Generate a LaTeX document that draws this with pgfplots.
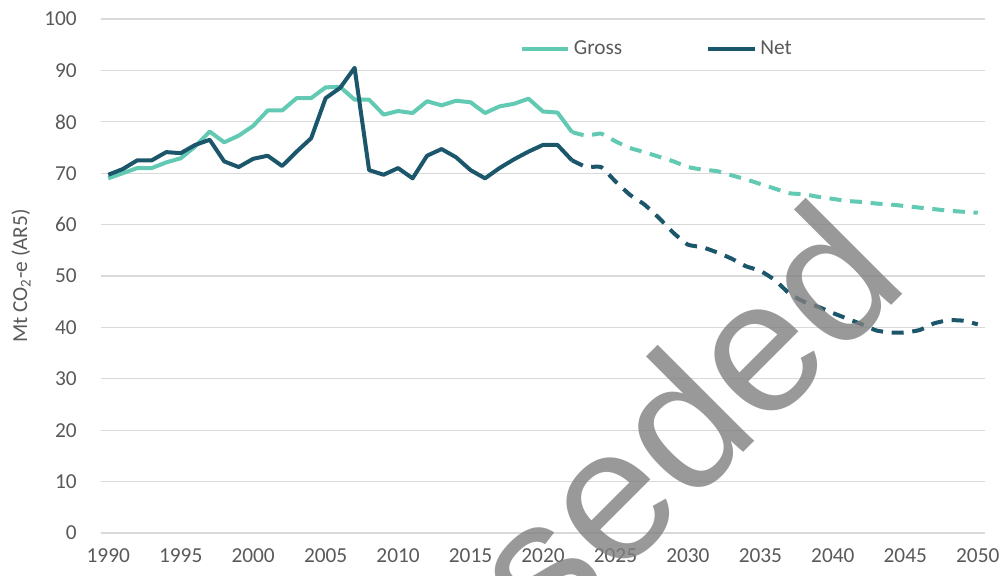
\documentclass[border=0pt]{standalone}
\usepackage{pgfplots}
\pgfplotsset{compat=1.18}
\usepackage{fontspec}
\setmainfont{Carlito}
\newfontfamily\wmfont{Liberation Sans}

\definecolor{grosscol}{HTML}{62C9B3}
\definecolor{netcol}{HTML}{1B566B}
\definecolor{gridcol}{HTML}{D9D9D9}
\definecolor{labcol}{HTML}{595959}

\newcommand{\chartfont}{\fontsize{16}{19}\selectfont}

\begin{document}
\begin{tikzpicture}
\begin{axis}[
  scale only axis, width=663pt, height=385.5pt,
  xmin=1989.5, xmax=2050.5, ymin=0, ymax=100,
  xtick={1990,1995,...,2050}, ytick={0,10,...,100},
  /pgf/number format/1000 sep={},
  /pgf/number format/assume math mode=true,
  axis line style={draw=none},
  tick style={draw=none},
  major tick length=0pt,
  ymajorgrids,
  grid style={gridcol, line width=1pt},
  tick label style={font=\chartfont, text=labcol},
  yticklabel style={inner sep=0pt, anchor=east, xshift=-18pt},
  xticklabel style={inner sep=0pt, anchor=north, yshift=-11.5pt},
  ylabel={Mt CO\textsubscript{2}-e (AR5)},
  ylabel style={at={(axis description cs:-0.0905,0.5)}, anchor=center, font=\chartfont, text=labcol},
  legend columns=2,
  legend image code/.code={\draw[#1] (0pt,0pt) -- (35pt,0pt);},
  legend style={at={(axis cs:2018.4,94.2)}, anchor=west, draw=none, fill=none,
    inner sep=0pt, outer sep=0pt, font=\chartfont, text=labcol,
    nodes={inner sep=0pt}, cells={anchor=west},
    /tikz/every odd column/.append style={column sep=2.5pt},
    /tikz/every even column/.append style={column sep=63pt}},
]
% historical
\addplot[grosscol, line width=3pt, line join=round] coordinates {
  (1990,69.0) (1991,70.0) (1992,71.0) (1993,71.0) (1994,72.1) (1995,72.9)
  (1996,75.2) (1997,78.1) (1998,76.0) (1999,77.3) (2000,79.2) (2001,82.2)
  (2002,82.2) (2003,84.6) (2004,84.6) (2005,86.7) (2006,86.8) (2007,84.3)
  (2008,84.3) (2009,81.4) (2010,82.1) (2011,81.7) (2012,84.0) (2013,83.2)
  (2014,84.1) (2015,83.8) (2016,81.7) (2017,83.0) (2018,83.5) (2019,84.5)
  (2020,82.0) (2021,81.8) (2022,78.0)
};
\addlegendentry{Gross}
\addplot[netcol, line width=3pt, line join=round] coordinates {
  (1990,69.7) (1991,70.8) (1992,72.5) (1993,72.5) (1994,74.1) (1995,73.9)
  (1996,75.5) (1997,76.5) (1998,72.3) (1999,71.2) (2000,72.8) (2001,73.4)
  (2002,71.4) (2003,74.2) (2004,76.8) (2005,84.6) (2006,86.6) (2007,90.5)
  (2008,70.6) (2009,69.7) (2010,71.0) (2011,69.0) (2012,73.4) (2013,74.7)
  (2014,73.1) (2015,70.6) (2016,69.0) (2017,71.0) (2018,72.7) (2019,74.2)
  (2020,75.5) (2021,75.5) (2022,72.5)
};
\addlegendentry{Net}
% projections
\addplot[grosscol, line width=3pt, dash pattern=on 9pt off 6.5pt, smooth, tension=0.3, forget plot] coordinates {
  (2022,78.0) (2023,77.3) (2024,77.7) (2025,76.2) (2026,74.9) (2027,74.1)
  (2028,73.2) (2029,72.3) (2030,71.2) (2031,70.7) (2032,70.4) (2033,69.6)
  (2034,68.8) (2035,67.9) (2036,67.0) (2037,66.1) (2038,65.9) (2039,65.4)
  (2040,65.0) (2041,64.6) (2042,64.4) (2043,64.1) (2044,63.9) (2045,63.6)
  (2046,63.3) (2047,63.0) (2048,62.7) (2049,62.5) (2050,62.3)
};
\addplot[netcol, line width=3pt, dash pattern=on 9pt off 6.5pt, smooth, tension=0.3, forget plot] coordinates {
  (2022,72.5) (2023,71.2) (2024,71.2) (2025,68.4) (2026,65.8) (2027,63.9)
  (2028,61.3) (2029,58.4) (2030,56.1) (2031,55.6) (2032,54.6) (2033,53.4)
  (2034,51.9) (2035,51.0) (2036,49.2) (2037,46.6) (2038,45.0) (2039,44.0)
  (2040,42.8) (2041,41.7) (2042,40.6) (2043,39.4) (2044,39.0) (2045,39.0)
  (2046,39.5) (2047,40.8) (2048,41.4) (2049,41.3) (2050,40.6)
};
\coordinate (wm) at (axis cs:2018.3,-14.8);
\end{axis}
\pgfresetboundingbox
\path[use as bounding box] ([xshift=-75.75pt,yshift=-31.5pt]current axis.south west)
  rectangle ([xshift=15pt,yshift=14.25pt]current axis.north east);
\begin{scope}
\clip ([xshift=-75.75pt,yshift=-31.5pt]current axis.south west)
  rectangle ([xshift=15pt,yshift=14.25pt]current axis.north east);
\node[overlay, rotate=45, text=black!50, text opacity=0.8,
  font=\wmfont\fontsize{141}{141}\selectfont] at (wm) {Superseded};
\end{scope}
\end{tikzpicture}
\end{document}
